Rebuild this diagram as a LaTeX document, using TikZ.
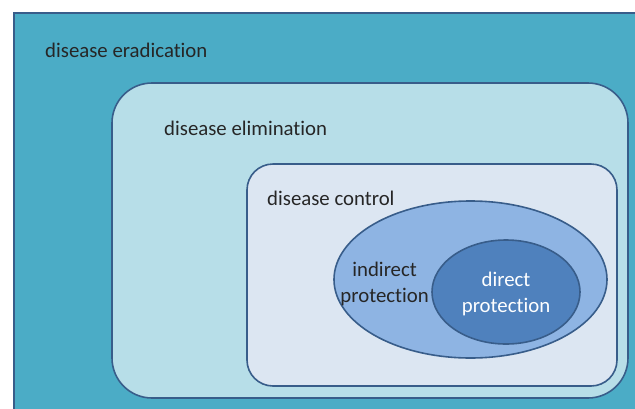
\documentclass[tikz,border=0pt]{standalone}
\usepackage{fontspec}
\setmainfont[RawFeature=-liga]{Carlito}
\usetikzlibrary{shapes.geometric}
\definecolor{eradic}{HTML}{4BACC6}
\definecolor{elimin}{HTML}{B7DEE8}
\definecolor{contr}{HTML}{DCE6F2}
\definecolor{indir}{HTML}{8EB4E3}
\definecolor{direc}{HTML}{4F81BD}
\definecolor{rim}{HTML}{385D8A}
\tikzset{ zone/.style = { rectangle
                        , draw = rim
                        , line width = 1.6pt
                        , inner sep = 0pt
                        },
          ring/.style = { ellipse
                        , draw = rim
                        , line width = 1.6pt
                        , inner sep = 0pt
                        },
          lbl/.style  = { font = \fontsize{20.8}{25.5}\selectfont
                        , text = black!85
                        , align = center
                        , inner sep = 0pt
                        }
        }

\begin{document}
\begin{tikzpicture}[x=1pt, y=-1pt]
    \useasboundingbox (0,0) rectangle (635,408);
    \clip (0,0) rectangle (635,408);
    % outer field runs off the page
    \node[zone, fill=eradic, anchor=north west, minimum width=640pt, minimum height=410pt]
        (eradication) at (13,12) {};
    \node[zone, fill=elimin, rounded corners=40pt, minimum width=516pt, minimum height=315pt]
        (elimination) at (370,240.5) {};
    \node[zone, fill=contr, rounded corners=26pt, minimum width=370pt, minimum height=222pt]
        (control) at (432,275) {};
    \node[ring, fill=indir, minimum width=273pt, minimum height=157pt]
        (indirect) at (470.5,279.5) {};
    \node[ring, fill=direc, minimum width=148pt, minimum height=104pt]
        (direct) at (506,292) {};
    % labels
    \node[lbl, anchor=west] (l-erad) at (45,50) {disease eradication};
    \node[lbl, anchor=west] (l-elim) at (164,128) {disease elimination};
    \node[lbl, anchor=west] (l-ctrl) at (267,198) {disease control};
    \node[lbl, anchor=east] (l-indir) at (429,284) {indirect\\protection};
    \node[lbl, text=white] (l-dir) at (506,294) {direct\\protection};
\end{tikzpicture}
\end{document}
